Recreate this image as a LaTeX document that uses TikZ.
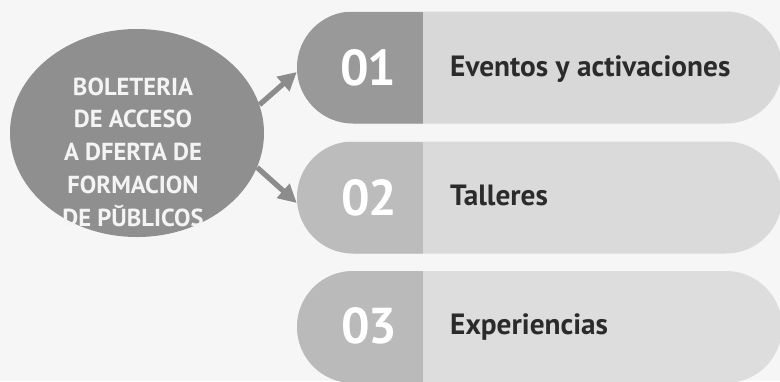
\documentclass[tikz,border=0pt]{standalone}
\usepackage{fontspec}
\setmainfont{PT Sans}
\usepackage{tikz}
\usetikzlibrary{shapes.misc,shapes.geometric,arrows.meta}
\definecolor{bggray}{HTML}{F6F6F6}
\definecolor{ovalgray}{HTML}{8F8F8F}
\definecolor{arrowgray}{HTML}{8C8C8C}
\definecolor{darkone}{HTML}{999999}
\definecolor{lightone}{HTML}{D8D8D8}
\definecolor{darktwo}{HTML}{BCBCBC}
\definecolor{lighttwo}{HTML}{DADADA}
\definecolor{darkthree}{HTML}{BABABA}
\definecolor{lightthree}{HTML}{DDDDDD}
\definecolor{labelgray}{HTML}{2B2B2B}
\definecolor{ovaltext}{HTML}{F4F4F4}
\tikzset{
  pill/.style 2 args={shape=rounded rectangle, minimum width=14.55cm, minimum height=3.36cm,
    inner sep=0pt, fill=#2,
    path picture={\fill[#1] (path picture bounding box.north west) rectangle ([xshift=3.78cm]path picture bounding box.south west);}},
  num/.style={text=white, inner sep=0pt, font=\fontsize{43}{43}\selectfont\bfseries\addfontfeatures{LetterSpace=-4}, anchor=base},
  lbl/.style={text=labelgray, inner sep=0pt, font=\fontsize{25}{25}\selectfont\bfseries, anchor=base west},
  arr/.style={draw=arrowgray, line width=4.5pt, -{Triangle[length=0.55cm,width=0.55cm]}}
}

\begin{document}
\begin{tikzpicture}[x=0.03cm, y=-0.03cm]
\fill[bggray] (0,0) rectangle (780,381);
\useasboundingbox (0,0) rectangle (780,381);

\node[shape=ellipse, fill=ovalgray, minimum width=7.62cm, minimum height=6.24cm, inner sep=0pt](bole) at (137,133) {};
\node[align=center, text=ovaltext, inner sep=0pt, font=\fontsize{21}{28}\selectfont\bfseries](boletxt) at (133,152)
  {BOLETERIA\\DE ACCESO\\A DFERTA DE\\FORMACION\\DE PŬBLICOS};

\node[pill={darkone}{lightone}](p1) at (539.5,67.5) {};
\node[pill={darktwo}{lighttwo}](p2) at (539.5,197.5) {};
\node[pill={darkthree}{lightthree}](p3) at (539.5,327) {};

\node[num](n1) at (368,85) {01};
\node[num](n2) at (369,215) {02};
\node[num](n3) at (369,343) {03};

\node[lbl](t1) at (450,76) {Eventos y activaciones};
\node[lbl](t2) at (450,205) {Talleres};
\node[lbl](t3) at (450,334) {Experiencias};

\draw[arr] (bole.13) -- ([yshift=-0.135cm]p1.west);
\draw[arr] (bole.-16) -- ([yshift=-0.165cm]p2.west);
\end{tikzpicture}
\end{document}
